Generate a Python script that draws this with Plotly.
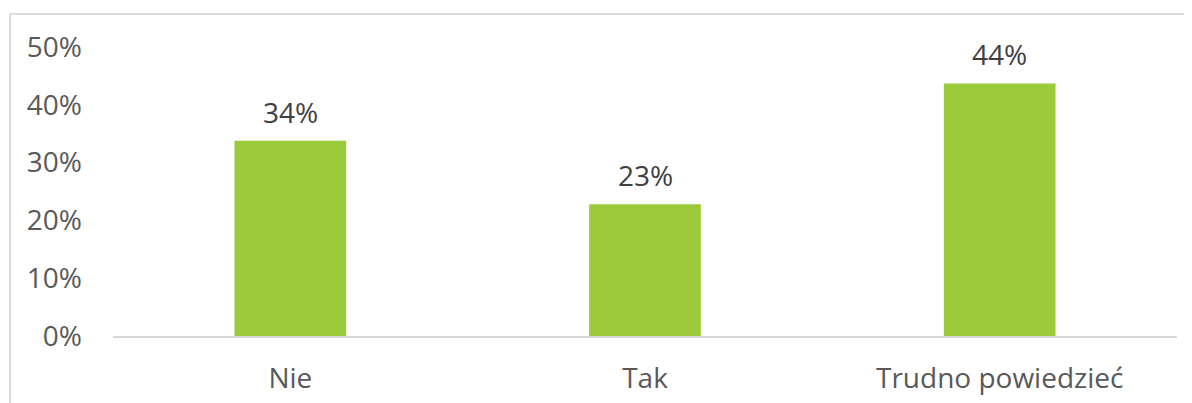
import plotly.graph_objects as go

categories = ["Nie", "Tak", "Trudno powiedzieć"]
values = [0.338, 0.228, 0.437]
y_ticks = [0, 0.1, 0.2, 0.3, 0.4, 0.5]
y_tick_labels = ["0%", "10%", "20%", "30%", "40%", "50%"]

font = "Open Sans, Liberation Sans, sans-serif"
green = "#9BCB3B"
frame = "#D9D9D9"
fsize = 28

fig = go.Figure()
fig.add_trace(go.Bar(
    x=categories, y=values,
    marker_color=green, marker_line_width=0,
    width=0.315,
    hoverinfo="skip",
))

# value labels above bars
for c, v in zip(categories, values):
    fig.add_annotation(x=c, y=v, text=f"{round(v * 100):.0f}%",
                       showarrow=False, yshift=29,
                       font=dict(family=font, size=fsize, color="#404040"))

# page has an 8px body margin, so the figure is a bit smaller than the window
W, H = 1184, 395
l, r, t, b = 105, 15, 39, 67
pw, ph = W - l - r, H - t - b
fx = (2 - l) / pw
fy = 1 + (t - 6) / ph
fig.add_shape(type="line", xref="paper", yref="paper",
              x0=fx, x1=fx, y0=-0.5, y1=fy, line=dict(color=frame, width=2))
fig.add_shape(type="line", xref="paper", yref="paper",
              x0=fx, x1=1.2, y0=fy, y1=fy, line=dict(color=frame, width=2))

fig.update_layout(
    width=W, height=H,
    margin=dict(l=l, r=r, t=t, b=b),
    paper_bgcolor="white", plot_bgcolor="white",
    showlegend=False,
    bargap=0.685,
    font=dict(family=font, size=fsize, color="#595959"),
    xaxis=dict(showline=True, linecolor=frame, linewidth=2,
               showgrid=False, ticks="", ticklabelstandoff=16,
               automargin=False,
               tickfont=dict(size=fsize, color="#595959")),
    yaxis=dict(range=[0, 0.5], tickvals=y_ticks, ticktext=y_tick_labels,
               showgrid=False, zeroline=False, showline=False,
               ticklabelstandoff=30, automargin=False,
               tickfont=dict(size=fsize, color="#595959")),
)

fig.write_html("out.html")
